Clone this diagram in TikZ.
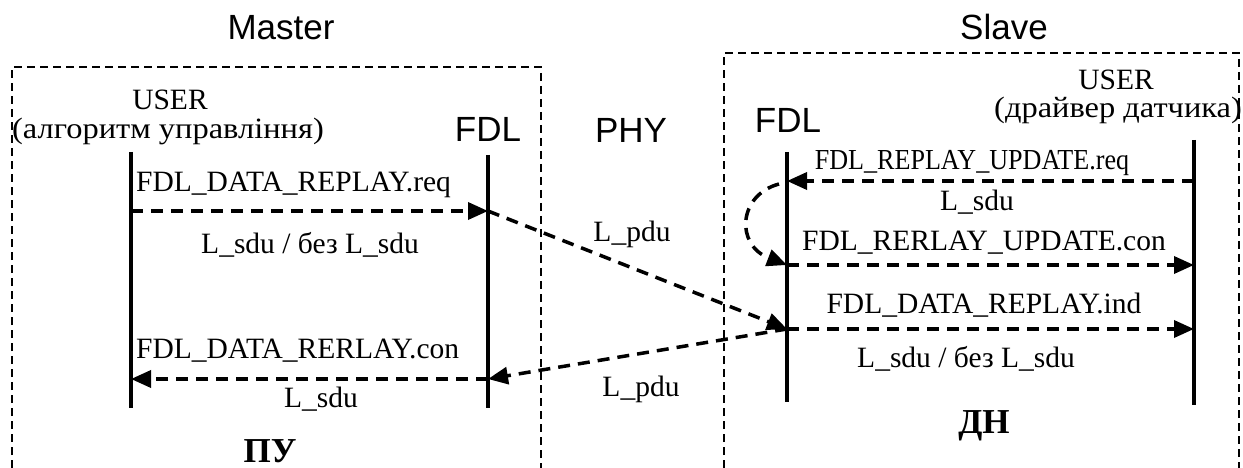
\documentclass[tikz,border=0pt]{standalone}
\usepackage{fontspec}
\setmainfont{Liberation Serif}
\newfontfamily\arial{Liberation Sans}
\newfontfamily\widecyr{Liberation Serif}[FakeStretch=1.1]
\newfontfamily\narrowser{Liberation Serif}[FakeStretch=0.9]
\usetikzlibrary{arrows.meta}
\begin{document}
\begin{tikzpicture}[x=1pt,y=-1pt,
  lbl/.style={font=\fontsize{29.5}{34}\selectfont, inner sep=0pt, anchor=base},
  lbll/.style={lbl, anchor=base west},
  cyr/.style={lbl, font=\widecyr\fontsize{29.5}{34}\selectfont},
  narrowlbl/.style={lbl, font=\narrowser\fontsize{29}{34}\selectfont},
  head/.style={font=\arial\fontsize{35}{40}\selectfont, inner sep=0pt, anchor=base},
  big/.style={font=\bfseries\fontsize{35}{40}\selectfont, inner sep=0pt, anchor=base},
  lifeline/.style={line width=3.5pt},
  msg/.style={line width=3.5pt, dash pattern=on 12pt off 8pt, -{Triangle[length=20pt,width=17pt]}},
  frame/.style={line width=2pt, dash pattern=on 8pt off 5pt}]

\useasboundingbox (0,0) rectangle (1243,468);

% frames
\draw[frame] (12,468) -- (12,67) -- (541,67) -- (541,468);
\draw[frame] (724,468) -- (724,53) -- (1239,53) -- (1239,468);

% headings
\node[head] (master) at (281,40) {Master};
\node[head] (slave) at (1004,40) {Slave};
\node[head] (phy) at (631,143) {PHY};
\node[head] (mfdl) at (488,142) {FDL};
\node[head] (sfdl) at (788,133) {FDL};

\node[lbl] (muser) at (170,110) {USER};
\node[cyr] (malg) at (168,139) {(алгоритм управління)};
\node[lbl] (suser) at (1116,90) {USER};
\node[cyr] (sdrv) at (1118,118) {(драйвер датчика)};

% lifelines
\coordinate (mu1) at (131,152); \coordinate (mu2) at (131,408);
\coordinate (mf1) at (488,155); \coordinate (mf2) at (488,408);
\coordinate (sf1) at (787,152); \coordinate (sf2) at (787,402);
\coordinate (su1) at (1194,140); \coordinate (su2) at (1194,405);
\draw[lifeline] (mu1) -- (mu2);
\draw[lifeline] (mf1) -- (mf2);
\draw[lifeline] (sf1) -- (sf2);
\draw[lifeline] (su1) -- (su2);

% message points
\coordinate (mua) at (131,211); \coordinate (mfa) at (488,211);
\coordinate (mub) at (131,379); \coordinate (mfb) at (488,379);
\coordinate (sfa) at (787,181); \coordinate (sua) at (1194,181);
\coordinate (sfb) at (787,265); \coordinate (sub) at (1194,265);
\coordinate (sfc) at (787,329); \coordinate (suc) at (1194,329);
\coordinate (cv) at (779,184);

% messages
\draw[msg] (mua) -- (mfa);
\draw[msg] (mfa) -- (sfc);
\draw[msg] (sfc) -- (mfb);
\draw[msg] (mfb) -- (mub);
\draw[msg] (sua) -- (sfa);
\draw[msg] (cv) .. controls (738,195) and (735,245) .. (sfb);
\draw[msg] (sfb) -- (sub);
\draw[msg] (sfc) -- (suc);

% labels master
\node[lbll] (l1) at (136,192) {FDL\_DATA\_REPLAY.req};
\node[lbl] (l2) at (310,253) {L\_sdu / без L\_sdu};
\node[lbll] (l3) at (136,358) {FDL\_DATA\_RERLAY.con};
\node[lbl] (l4) at (321,407) {L\_sdu};
\node[big] (pu) at (270,462) {ПУ};

% labels phy
\node[lbl] (p1) at (632,241) {L\_pdu};
\node[lbl] (p2) at (641,396) {L\_pdu};

% labels slave
\node[narrowlbl] (s1) at (972,170) {FDL\_REPLAY\_UPDATE.req};
\node[lbl] (s2) at (977,211) {L\_sdu};
\node[lbl] (s3) at (984,250) {FDL\_RERLAY\_UPDATE.con};
\node[lbl] (s4) at (984,313) {FDL\_DATA\_REPLAY.ind};
\node[lbl] (s5) at (966,367) {L\_sdu / без L\_sdu};
\node[big] (dn) at (984,433) {ДН};
\end{tikzpicture}
\end{document}
